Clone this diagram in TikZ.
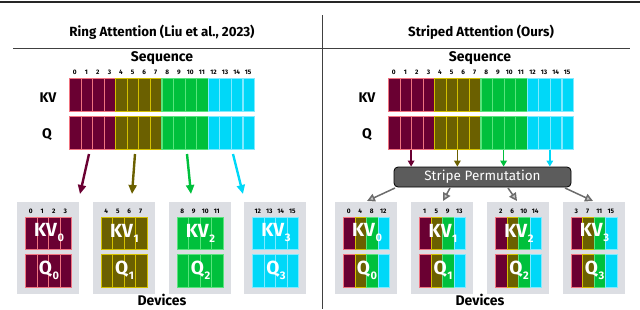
\documentclass[tikz,border=0pt]{standalone}
\usepackage{fontspec}
\setmainfont{Fira Sans}
\usetikzlibrary{arrows.meta,calc}
\definecolor{cA}{HTML}{6A0032}\definecolor{bA}{HTML}{F07480}
\definecolor{cB}{HTML}{6B6000}\definecolor{bB}{HTML}{D4C000}
\definecolor{cC}{HTML}{00C03C}\definecolor{bC}{HTML}{58E47C}
\definecolor{cD}{HTML}{00D8F8}\definecolor{bD}{HTML}{80EAFF}
\definecolor{devgray}{HTML}{DCDEE3}
\definecolor{permgray}{HTML}{5C5C5C}
\tikzset{
  title/.style={font=\bfseries\fontsize{13.3}{14}\selectfont},
  head/.style={font=\bfseries\fontsize{14}{15}\selectfont},
  rowlab/.style={font=\bfseries\fontsize{14}{15}\selectfont},
  idx/.style={font=\bfseries\fontsize{6.5}{7}\selectfont, inner sep=0pt},
  cellbox/.style={line width=1.1pt, minimum width=11.56pt, minimum height=33pt, inner sep=0pt, anchor=north west},
  dcell/.style={line width=1.1pt, minimum width=11.5pt, minimum height=32pt, inner sep=0pt, anchor=north west},
  devbox/.style={fill=devgray, minimum width=62pt, minimum height=92pt, inner sep=0pt, anchor=north},
  bigtxt/.style={text=white, font=\bfseries\fontsize{19}{19}\selectfont, inner sep=0pt},
  carr/.style={line width=2.4pt, -{Triangle[length=9pt,width=8pt]}},
  sarr/.style={line width=1.6pt, -{Triangle[length=6pt,width=6.5pt]}},
  garr/.style={line width=1.5pt, draw=gray!85!black, -{Triangle[open,length=8pt,width=8pt,fill=gray!45]}},
  perm/.style={draw=black, fill=permgray, rounded corners=4pt, line width=0.8pt, minimum width=177pt, minimum height=20pt, text=white, font=\fontsize{13.5}{13.5}\selectfont, inner sep=0pt},
}
\newcommand{\sbs}[1]{\kern0.6pt\raisebox{-5pt}{\fontsize{11}{11}\selectfont #1}}
\begin{document}
\begin{tikzpicture}[x=1pt,y=-1pt]
\useasboundingbox (0,0) rectangle (640,309);
% frame lines
\coordinate (topL) at (0,1.5); \coordinate (topR) at (640,1.5);
\draw[line width=2pt, black!85] (topL) -- (topR);
\coordinate (hL) at (13,48); \coordinate (hR) at (630,48);
\draw[line width=0.9pt, black!75] (hL) -- (hR);
\coordinate (vT) at (322,15); \coordinate (vB) at (322,309);
\draw[line width=0.9pt, black!75] (vT) -- (vB);
% titles
\node[title] (tL) at (162,32) {Ring Attention (Liu et al., 2023)};
\node[title] (tR) at (481,32) {Striped Attention (Ours)};
\node[head] (sL) at (162,58) {Sequence};
\node[head] (sR) at (480,58) {Sequence};
\node[rowlab] (kvL) at (48,98) {KV};
\node[rowlab] (qL) at (47,135) {Q};
\node[rowlab] (kvR) at (367,98) {KV};
\node[rowlab] (qR) at (367,135) {Q};
\node[head] (dL) at (162,300) {Devices};
\node[head] (dR) at (480,300) {Devices};
% sequence bars
\foreach \xo/\s in {69/L,388/R}{
  \foreach \g/\c in {0/A,1/B,2/C,3/D}{
    \foreach \j in {0,...,3}{
      \pgfmathtruncatemacro{\k}{4*\g+\j}
      \node[cellbox, fill=c\c, draw=b\c] (\s KV\k) at ({\xo+11.56*\k},78) {};
      \node[cellbox, fill=c\c, draw=b\c] (\s Q\k) at ({\xo+11.56*\k},116) {};
      \node[idx] (\s n\k) at ({\xo+11.56*\k+5.78},72) {\k};
    }
  }
}
% left device boxes
\foreach \g/\c/\cx in {0/A/48,1/B/123.5,2/C/199.5,3/D/275}{
  \node[devbox] (LD\g) at (\cx,202) {};
  \foreach \j in {0,...,3}{
    \pgfmathtruncatemacro{\k}{4*\g+\j}
    \node[dcell, fill=c\c, draw=b\c] (LDkv\k) at ({\cx-23+11.5*\j},217) {};
    \node[dcell, fill=c\c, draw=b\c, minimum height=33pt] (LDq\k) at ({\cx-23+11.5*\j},254) {};
    \node[idx] (LDn\k) at ({\cx-23+11.5*\j+5.75},211) {\k};
  }
  \node[bigtxt] (LKVt\g) at ({\cx+1},233) {KV\sbs{\g}};
  \node[bigtxt] (LQt\g) at ({\cx+1},270) {Q\sbs{\g}};
}
% right device boxes
\foreach \g/\cx in {0/366,1/442,2/518,3/593.5}{
  \node[devbox] (RD\g) at (\cx,202) {};
  \foreach \j/\c in {0/A,1/B,2/C,3/D}{
    \pgfmathtruncatemacro{\k}{\g+4*\j}
    \node[dcell, fill=c\c, draw=b\c] (RDkv\k) at ({\cx-23+11.5*\j},217) {};
    \node[dcell, fill=c\c, draw=b\c, minimum height=33pt] (RDq\k) at ({\cx-23+11.5*\j},254) {};
    \node[idx] (RDn\k) at ({\cx-23+11.5*\j+5.75},211) {\k};
  }
  \node[bigtxt] (RKVt\g) at ({\cx+1},233) {KV\sbs{\g}};
  \node[bigtxt] (RQt\g) at ({\cx+1},270) {Q\sbs{\g}};
}
% left arrows
\foreach \c/\xs/\xe [count=\i] in {A/89/80,B/135/132,C/187/191,D/233/243}{
  \coordinate (las\i) at (\xs,154);
  \coordinate (lae\i) at (\xe,194);
  \draw[carr, draw=c\c, fill=c\c] (las\i) -- (lae\i);
}
% stripe permutation
\node[perm] (P) at (482.5,177) {Stripe Permutation};
\foreach \c/\k in {A/2,B/6,C/10,D/14}{
  \draw[sarr, draw=c\c, fill=c\c] (RQ\k.south west) -- (RQ\k.south west |- P.north);
}
\foreach \xs/\xe [count=\i] in {395/367,450/443,508/517,565/593}{
  \coordinate (pas\i) at (\xs,188);
  \coordinate (pae\i) at (\xe,201);
  \draw[garr] (pas\i) -- (pae\i);
}
\end{tikzpicture}
\end{document}
